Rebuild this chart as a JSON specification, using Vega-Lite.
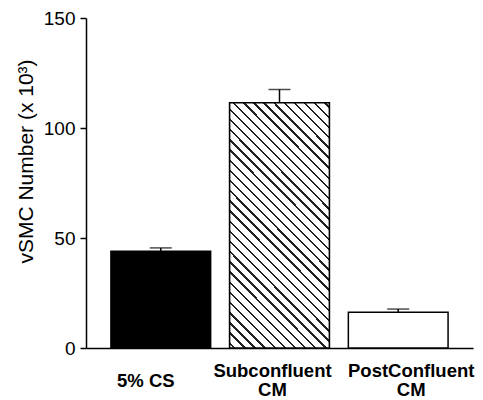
{
  "$schema": "https://vega.github.io/schema/vega-lite/v6.json",
  "width": 387,
  "height": 330,
  "autosize": {"type": "none"},
  "padding": {"left": 86, "top": 18, "right": 10, "bottom": 52},
  "background": "white",
  "config": {
    "view": {"stroke": null},
    "font": "Liberation Sans",
    "axis": {"domainColor": "black", "tickColor": "black", "labelColor": "black", "titleColor": "black", "grid": false}
  },
  "data": {
    "values": [
      {"group": "5% CS", "value": 44, "upper": 45.5},
      {"group": "Subconfluent CM", "value": 111.5, "upper": 117.5},
      {"group": "PostConfluent CM", "value": 16.2, "upper": 17.7}
    ]
  },
  "encoding": {
    "x": {
      "field": "group", "type": "nominal", "sort": null,
      "scale": {"paddingInner": 0.16, "paddingOuter": 0.21},
      "axis": {
        "title": null, "ticks": false, "labelAngle": 0,
        "labelPadding": {"condition": {"test": "datum.value == '5% CS'", "value": 32}, "value": 22},
        "labelOffset": {"condition": [{"test": "datum.value == '5% CS'", "value": -15}, {"test": "datum.value == 'Subconfluent CM'", "value": -7}], "value": 13},
        "labelBaseline": "middle", "labelFontSize": 18.5, "labelFontWeight": "bold",
        "labelLineHeight": 19, "domainWidth": 1.5,
        "labelExpr": "datum.label == '5% CS' ? datum.label : split(datum.label, ' ')"
      }
    }
  },
  "layer": [
    {
      "mark": {"type": "bar", "stroke": "black", "strokeWidth": 1.5},
      "encoding": {
        "y": {
          "field": "value", "type": "quantitative",
          "scale": {"domain": [0, 150], "nice": false},
          "axis": {
            "values": [0, 50, 100, 150], "tickSize": 6, "tickWidth": 1.5, "domainWidth": 1.5,
            "labelPadding": 5, "labelFontSize": 19,
            "title": "vSMC Number (x 10³)", "titleFontSize": 21, "titleFontWeight": "normal",
            "titleX": -53.5, "titleY": 143, "titleBaseline": "alphabetic", "titleAngle": -90, "titleAlign": "center"
          }
        },
        "fill": {
          "field": "group", "type": "nominal", "legend": null,
          "scale": {"domain": ["5% CS", "Subconfluent CM", "PostConfluent CM"], "range": ["black", "white", "white"]}
        }
      }
    },
    {
      "transform": [{"filter": "datum.group == 'Subconfluent CM'"}],
      "mark": {
        "type": "bar", "stroke": "black", "strokeWidth": 1.5,
        "fill": {
          "gradient": "linear", "x1": 0, "y1": 1, "x2": 0.493, "y2": -0.208,
          "stops": [
            {"offset": 0, "color": "white"},
            {"offset": 0.0112, "color": "white"}, {"offset": 0.0112, "color": "#222"}, {"offset": 0.0182, "color": "#222"}, {"offset": 0.0182, "color": "white"},
            {"offset": 0.0406, "color": "white"}, {"offset": 0.0406, "color": "#222"}, {"offset": 0.0476, "color": "#222"}, {"offset": 0.0476, "color": "white"},
            {"offset": 0.0700, "color": "white"}, {"offset": 0.0700, "color": "#222"}, {"offset": 0.0770, "color": "#222"}, {"offset": 0.0770, "color": "white"},
            {"offset": 0.0994, "color": "white"}, {"offset": 0.0994, "color": "#222"}, {"offset": 0.1064, "color": "#222"}, {"offset": 0.1064, "color": "white"},
            {"offset": 0.1289, "color": "white"}, {"offset": 0.1289, "color": "#222"}, {"offset": 0.1359, "color": "#222"}, {"offset": 0.1359, "color": "white"},
            {"offset": 0.1583, "color": "white"}, {"offset": 0.1583, "color": "#222"}, {"offset": 0.1653, "color": "#222"}, {"offset": 0.1653, "color": "white"},
            {"offset": 0.1877, "color": "white"}, {"offset": 0.1877, "color": "#222"}, {"offset": 0.1947, "color": "#222"}, {"offset": 0.1947, "color": "white"},
            {"offset": 0.2171, "color": "white"}, {"offset": 0.2171, "color": "#222"}, {"offset": 0.2241, "color": "#222"}, {"offset": 0.2241, "color": "white"},
            {"offset": 0.2465, "color": "white"}, {"offset": 0.2465, "color": "#222"}, {"offset": 0.2535, "color": "#222"}, {"offset": 0.2535, "color": "white"},
            {"offset": 0.2759, "color": "white"}, {"offset": 0.2759, "color": "#222"}, {"offset": 0.2829, "color": "#222"}, {"offset": 0.2829, "color": "white"},
            {"offset": 0.3053, "color": "white"}, {"offset": 0.3053, "color": "#222"}, {"offset": 0.3123, "color": "#222"}, {"offset": 0.3123, "color": "white"},
            {"offset": 0.3347, "color": "white"}, {"offset": 0.3347, "color": "#222"}, {"offset": 0.3417, "color": "#222"}, {"offset": 0.3417, "color": "white"},
            {"offset": 0.3641, "color": "white"}, {"offset": 0.3641, "color": "#222"}, {"offset": 0.3711, "color": "#222"}, {"offset": 0.3711, "color": "white"},
            {"offset": 0.3936, "color": "white"}, {"offset": 0.3936, "color": "#222"}, {"offset": 0.4006, "color": "#222"}, {"offset": 0.4006, "color": "white"},
            {"offset": 0.4230, "color": "white"}, {"offset": 0.4230, "color": "#222"}, {"offset": 0.4300, "color": "#222"}, {"offset": 0.4300, "color": "white"},
            {"offset": 0.4524, "color": "white"}, {"offset": 0.4524, "color": "#222"}, {"offset": 0.4594, "color": "#222"}, {"offset": 0.4594, "color": "white"},
            {"offset": 0.4818, "color": "white"}, {"offset": 0.4818, "color": "#222"}, {"offset": 0.4888, "color": "#222"}, {"offset": 0.4888, "color": "white"},
            {"offset": 0.5112, "color": "white"}, {"offset": 0.5112, "color": "#222"}, {"offset": 0.5182, "color": "#222"}, {"offset": 0.5182, "color": "white"},
            {"offset": 0.5406, "color": "white"}, {"offset": 0.5406, "color": "#222"}, {"offset": 0.5476, "color": "#222"}, {"offset": 0.5476, "color": "white"},
            {"offset": 0.5700, "color": "white"}, {"offset": 0.5700, "color": "#222"}, {"offset": 0.5770, "color": "#222"}, {"offset": 0.5770, "color": "white"},
            {"offset": 0.5994, "color": "white"}, {"offset": 0.5994, "color": "#222"}, {"offset": 0.6064, "color": "#222"}, {"offset": 0.6064, "color": "white"},
            {"offset": 0.6289, "color": "white"}, {"offset": 0.6289, "color": "#222"}, {"offset": 0.6359, "color": "#222"}, {"offset": 0.6359, "color": "white"},
            {"offset": 0.6583, "color": "white"}, {"offset": 0.6583, "color": "#222"}, {"offset": 0.6653, "color": "#222"}, {"offset": 0.6653, "color": "white"},
            {"offset": 0.6877, "color": "white"}, {"offset": 0.6877, "color": "#222"}, {"offset": 0.6947, "color": "#222"}, {"offset": 0.6947, "color": "white"},
            {"offset": 0.7171, "color": "white"}, {"offset": 0.7171, "color": "#222"}, {"offset": 0.7241, "color": "#222"}, {"offset": 0.7241, "color": "white"},
            {"offset": 0.7465, "color": "white"}, {"offset": 0.7465, "color": "#222"}, {"offset": 0.7535, "color": "#222"}, {"offset": 0.7535, "color": "white"},
            {"offset": 0.7759, "color": "white"}, {"offset": 0.7759, "color": "#222"}, {"offset": 0.7829, "color": "#222"}, {"offset": 0.7829, "color": "white"},
            {"offset": 0.8053, "color": "white"}, {"offset": 0.8053, "color": "#222"}, {"offset": 0.8123, "color": "#222"}, {"offset": 0.8123, "color": "white"},
            {"offset": 0.8347, "color": "white"}, {"offset": 0.8347, "color": "#222"}, {"offset": 0.8417, "color": "#222"}, {"offset": 0.8417, "color": "white"},
            {"offset": 0.8641, "color": "white"}, {"offset": 0.8641, "color": "#222"}, {"offset": 0.8711, "color": "#222"}, {"offset": 0.8711, "color": "white"},
            {"offset": 0.8936, "color": "white"}, {"offset": 0.8936, "color": "#222"}, {"offset": 0.9006, "color": "#222"}, {"offset": 0.9006, "color": "white"},
            {"offset": 0.9230, "color": "white"}, {"offset": 0.9230, "color": "#222"}, {"offset": 0.9300, "color": "#222"}, {"offset": 0.9300, "color": "white"},
            {"offset": 0.9524, "color": "white"}, {"offset": 0.9524, "color": "#222"}, {"offset": 0.9594, "color": "#222"}, {"offset": 0.9594, "color": "white"},
            {"offset": 0.9818, "color": "white"}, {"offset": 0.9818, "color": "#222"}, {"offset": 0.9888, "color": "#222"}, {"offset": 0.9888, "color": "white"},
            {"offset": 1, "color": "white"}
          ]
        }
      },
      "encoding": {
        "y": {"field": "value", "type": "quantitative", "scale": {"domain": [0, 150], "nice": false}}
      }
    },
    {
      "mark": {"type": "rule", "color": "black", "strokeWidth": 1.5},
      "encoding": {
        "y": {"field": "value", "type": "quantitative", "scale": {"domain": [0, 150], "nice": false}},
        "y2": {"field": "upper"}
      }
    },
    {
      "mark": {"type": "tick", "color": "black", "thickness": 1.5, "size": 22, "orient": "horizontal"},
      "encoding": {
        "y": {"field": "upper", "type": "quantitative", "scale": {"domain": [0, 150], "nice": false}}
      }
    }
  ]
}
